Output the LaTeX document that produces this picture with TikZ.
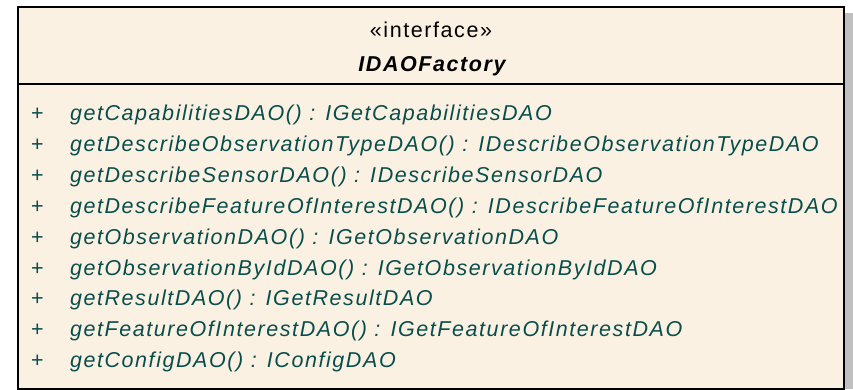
\documentclass[tikz,border=0pt]{standalone}
\usepackage{fontspec}
\setmainfont{Liberation Sans}
\newfontfamily\umlfont[LetterSpace=7.3]{Liberation Sans}
\definecolor{classfill}{RGB}{251,241,227}
\definecolor{opcolor}{RGB}{8,78,76}
\definecolor{shadowgray}{RGB}{192,192,192}
\begin{document}
\begin{tikzpicture}[x=1pt,y=-1pt,
  every node/.style={inner sep=0pt,outer sep=0pt},
  stereo/.style={anchor=base,font=\umlfont\fontsize{21.5}{24}\selectfont},
  cname/.style={anchor=base,font=\umlfont\fontsize{21.5}{24}\selectfont\bfseries\itshape},
  vis/.style={anchor=base,text=opcolor,font=\umlfont\fontsize{21.5}{24}\selectfont},
  op/.style={anchor=base west,text=opcolor,font=\umlfont\fontsize{21.5}{24}\selectfont\itshape},
  frame/.style={draw=black,line width=2pt}]
\useasboundingbox (0,0) rectangle (853,389);
% drop shadow on the right side
\fill[shadowgray] (845,13) rectangle (853,389);
% class box with header compartment
\coordinate (nw) at (18.3,7);
\coordinate (se) at (844,388.5);
\coordinate (sepw) at (18.3,83.7);
\coordinate (sepe) at (844,83.7);
\fill[classfill] (nw) rectangle (se);
\draw[frame] (sepw) -- (sepe);
\draw[frame] (nw) rectangle (se);
% header
\node[stereo] (stereotype) at (431,37) {«interface»};
\node[cname] (classname) at (432,71.5) {IDAOFactory};
% operations
\foreach \i/\txt in {
  1/{getCapabilitiesDAO() : IGetCapabilitiesDAO},
  2/{getDescribeObservationTypeDAO() : IDescribeObservationTypeDAO},
  3/{getDescribeSensorDAO() : IDescribeSensorDAO},
  4/{getDescribeFeatureOfInterestDAO() : IDescribeFeatureOfInterestDAO},
  5/{getObservationDAO() : IGetObservationDAO},
  6/{getObservationByIdDAO() : IGetObservationByIdDAO},
  7/{getResultDAO() : IGetResultDAO},
  8/{getFeatureOfInterestDAO() : IGetFeatureOfInterestDAO},
  9/{getConfigDAO() : IConfigDAO}} {
  \node[vis] (vis\i) at (37.5,{120.5+30.9*(\i-1)}) {+};
  \node[op] (op\i) at (70,{120.5+30.9*(\i-1)}) {\txt};
}
\end{tikzpicture}
\end{document}
